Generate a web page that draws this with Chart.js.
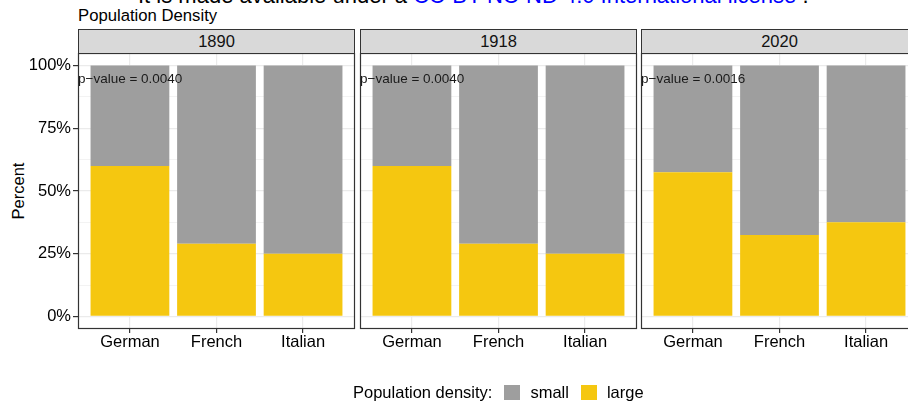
<!DOCTYPE html>
<html>
<head>
<meta charset="utf-8">
<script src="https://cdn.jsdelivr.net/npm/chart.js@4.4.1/dist/chart.umd.min.js"></script>
<style>
  body { margin:0; width:908px; height:409px; overflow:hidden; background:#fff; position:relative;
         font-family:"Liberation Sans", Arial, sans-serif; color:#000; }
  .abs { position:absolute; white-space:nowrap; }
  #note { left:138px; top:-15px; font-size:22px; line-height:22px; }
  #note a { color:#0000ff; text-decoration:none; }
  #title { left:78px; top:7px; font-size:16.7px; line-height:17px; }
  #ytitle { left:-12px; top:182px; width:60px; text-align:center; font-size:16.5px; line-height:18px;
            transform:rotate(-90deg); color:#000; }
  .strip { position:absolute; top:29px; height:25px; width:277px; box-sizing:border-box; background:#d9d9d9;
           border:1px solid #333; text-align:center; font-size:16.5px; line-height:23px; color:#111; }
  .panel { position:absolute; top:40px; width:359px; height:330px; }
  #legend { left:353px; top:384px; font-size:16.5px; line-height:17px; display:flex; align-items:center; }
  .sw { display:inline-block; width:16px; height:15px; margin:0 10px 0 12px; }
</style>
</head>
<body>
<div class="abs" id="note">It is made available under a <a>CC-BY-NC-ND 4.0 International license</a> .</div>
<div class="abs" id="title">Population Density</div>
<div class="abs" id="ytitle">Percent</div>
<div id="panels"></div>
<div class="abs" id="legend">Population density:<span class="sw" style="background:#9e9e9e"></span>small<span class="sw" style="background:#f5c710"></span>large</div>

<script>
/* DATA */
const years = ["1890", "1918", "2020"];
const groups = ["German", "French", "Italian"];
const large1890 = [60, 29, 25];
const large1918 = [60, 29, 25];
const large2020 = [57.5, 32.5, 37.5];
const pValues = ["p\u2212value = 0.0040", "p\u2212value = 0.0040", "p\u2212value = 0.0016"];
const yTicks = [0, 12.5, 25, 37.5, 50, 62.5, 75, 87.5, 100];

const largeByYear = [large1890, large1918, large2020];
const panelLeft = [78, 360, 641];
const FONT = "'Liberation Sans', Arial, sans-serif";

/* frame + p-value label */
const panelDecor = {
  id: "panelDecor",
  afterDatasetsDraw(chart, args, opts) {
    const { ctx, chartArea: a, scales } = chart;
    ctx.save();
    ctx.font = "13.5px " + FONT;
    ctx.fillStyle = "#1a1a1a";
    ctx.textBaseline = "middle";
    ctx.textAlign = "left";
    ctx.fillText(opts.label, scales.x.getPixelForValue(0.4), scales.y.getPixelForValue(94.5));
    ctx.strokeStyle = "#333";
    ctx.lineWidth = 1.2;
    ctx.strokeRect(a.left + 0.5, a.top + 0.5, a.right - a.left - 1, a.bottom - a.top - 1);
    ctx.restore();
  }
};

years.forEach((yr, i) => {
  const strip = document.createElement("div");
  strip.className = "strip";
  strip.style.left = panelLeft[i] + "px";
  strip.textContent = yr;

  const box = document.createElement("div");
  box.className = "panel";
  box.style.left = (panelLeft[i] - 78) + "px";
  const cv = document.createElement("canvas");
  box.appendChild(cv);
  document.getElementById("panels").appendChild(box);
  document.getElementById("panels").appendChild(strip);

  const large = largeByYear[i];
  const small = large.map(v => 100 - v);
  const showY = i === 0;

  new Chart(cv, {
    type: "bar",
    data: {
      datasets: [
        { label: "large", data: large.map((v, j) => ({ x: j + 1, y: v })), backgroundColor: "#f5c710" },
        { label: "small", data: small.map((v, j) => ({ x: j + 1, y: v })), backgroundColor: "#9e9e9e" }
      ]
    },
    options: {
      animation: false,
      responsive: true,
      maintainAspectRatio: false,
      layout: { padding: { top: 13, right: 4, left: 0, bottom: 0 } },
      datasets: { bar: { barPercentage: 0.91, categoryPercentage: 1 } },
      plugins: { legend: { display: false }, tooltip: { enabled: false }, panelDecor: { label: pValues[i] } },
      scales: {
        x: {
          type: "linear", stacked: true, min: 0.4, max: 3.6, offset: false,
          afterBuildTicks: s => { s.ticks = groups.map((g, j) => ({ value: j + 1 })); },
          afterFit: s => { s.height = 41; },
          border: { display: false },
          grid: { offset: false, color: "#ebebeb", lineWidth: 1.2, tickColor: "#333", tickLength: 4 },
          ticks: { callback: v => groups[v - 1], color: "#000", font: { size: 16.5, family: FONT },
                   padding: 0, maxRotation: 0, autoSkip: false }
        },
        y: {
          stacked: true, min: -5, max: 105,
          afterBuildTicks: s => { s.ticks = yTicks.map(v => ({ value: v })); },
          afterFit: s => { s.width = 78; },
          border: { display: false },
          grid: {
            color: "#ebebeb",
            lineWidth: c => (c.tick && c.tick.value % 25 === 0) ? 1.2 : 0.6,
            tickColor: c => (showY && c.tick && c.tick.value % 25 === 0) ? "#333" : "rgba(0,0,0,0)",
            tickLength: 5
          },
          ticks: { display: showY, callback: v => (v % 25 === 0 ? v + "%" : ""), color: "#000",
                   font: { size: 16.5, family: FONT }, padding: 2, autoSkip: false }
        }
      }
    },
    plugins: [panelDecor]
  });
});
</script>
</body>
</html>
